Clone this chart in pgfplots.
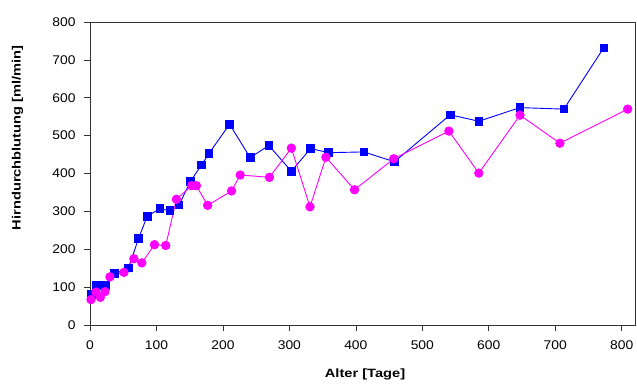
\documentclass[border=0pt]{standalone}
\usepackage{fontspec}
\setmainfont{Liberation Sans}
\newfontfamily\tickfont{Liberation Sans}[FakeStretch=1.1]
\newfontfamily\labelfont{Liberation Sans}[FakeStretch=1.22]
\usepackage{pgfplots}
\pgfplotsset{compat=1.18}
\definecolor{mblue}{RGB}{0,0,255}
\definecolor{mmag}{RGB}{255,0,255}
\begin{document}
\begin{tikzpicture}
\begin{axis}[
  scale only axis,
  width=545pt, height=303pt,
  xmin=0, xmax=820, ymin=0, ymax=800,
  xtick={0,100,...,800}, ytick={0,100,...,800},
  tick align=outside, tick pos=left,
  major tick length=6pt,
  axis line style={black!80, line width=0.9pt},
  every tick/.style={black!80, line width=0.6pt},
  /pgf/number format/assume math mode=true,
  ticklabel style={font=\tickfont\fontsize{12.6}{14}\selectfont},
  xticklabel style={yshift=-6pt},
  yticklabel style={xshift=-5pt},
  xlabel={Alter [Tage]}, ylabel={Hirndurchblutung [ml/min]},
  label style={font=\labelfont\fontsize{12}{14}\selectfont\bfseries},
  xlabel style={at={(axis description cs:0.5046,-0.162)}, anchor=center},
  ylabel style={at={(axis description cs:-0.133,0.618)}, rotate=0, anchor=center},
  clip=false,
]
\coordinate (O) at (rel axis cs:0,0);
\addplot[color=mblue, line width=0.9pt, mark=square*, mark size=3.8pt, mark options={solid, fill=mblue, draw=mblue}] coordinates {
(2,80) (9,104) (16,104) (24,104) (37,136) (58,151) (73,228) (86,287)
(105,307) (120,302) (134,317) (151,379) (168,423) (179,453) (210,530)
(241,442) (269,474) (303,406) (332,466) (359,455) (412,457) (458,431)
(542,555) (585,538) (647,574) (713,570) (773,732)
};
\addplot[color=mmag, line width=0.9pt, mark=*, mark size=4.2pt, mark options={solid, fill=mmag, draw=mmag}] coordinates {
(1.5,67) (9,87) (15.5,73) (22.6,88) (30,127) (51,139) (66,175) (78,164)
(97,212) (114,210) (130,332) (153,368) (160,368) (177,316) (213,354)
(226,396) (270,390) (303,467) (331,312) (355,443) (398,357) (457,439)
(540,512) (585,401) (647,554) (707,480) (809,570)
};
\end{axis}
\path (O) ++(-90pt,-57pt) rectangle ++(637pt,382pt);
\end{tikzpicture}
\end{document}
